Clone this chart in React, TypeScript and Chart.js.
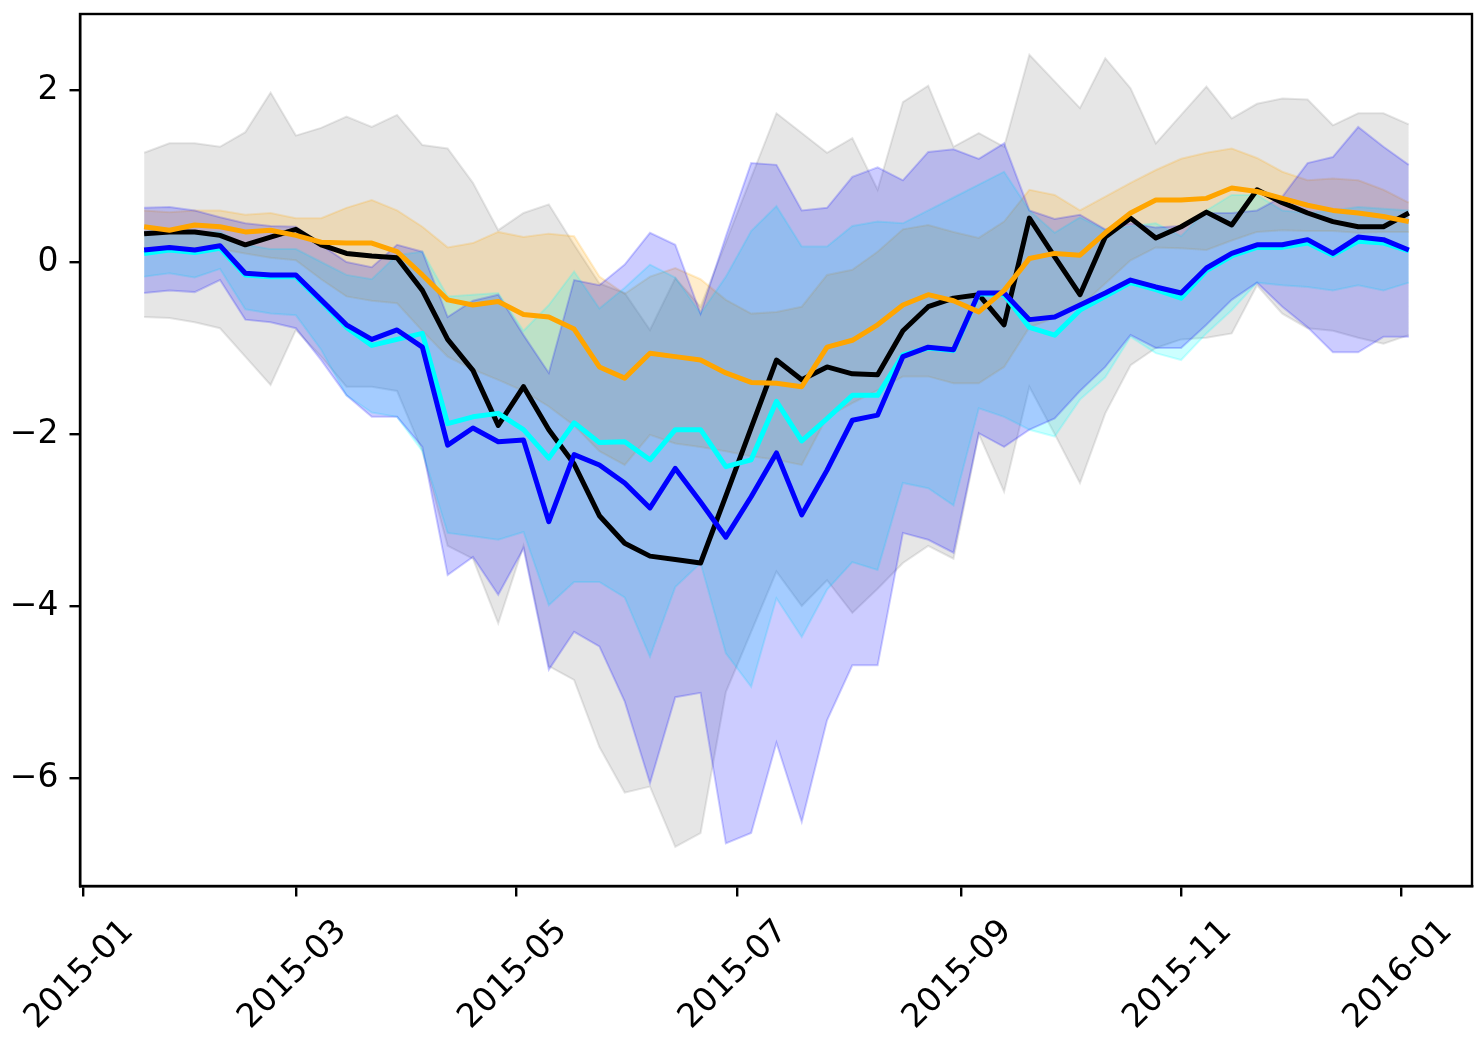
import React, { useEffect, useRef } from "react";
import { Chart, registerables } from "chart.js";

Chart.register(...registerables);

const dates = [
  "2015-01-18", "2015-01-25", "2015-02-01", "2015-02-08", "2015-02-15", "2015-02-22",
  "2015-03-01", "2015-03-08", "2015-03-15", "2015-03-22", "2015-03-29",
  "2015-04-05", "2015-04-12", "2015-04-19", "2015-04-26",
  "2015-05-03", "2015-05-10", "2015-05-17", "2015-05-24", "2015-05-31",
  "2015-06-07", "2015-06-14", "2015-06-21", "2015-06-28",
  "2015-07-05", "2015-07-12", "2015-07-19", "2015-07-26",
  "2015-08-02", "2015-08-09", "2015-08-16", "2015-08-23", "2015-08-30",
  "2015-09-06", "2015-09-13", "2015-09-20", "2015-09-27",
  "2015-10-04", "2015-10-11", "2015-10-18", "2015-10-25",
  "2015-11-01", "2015-11-08", "2015-11-15", "2015-11-22", "2015-11-29",
  "2015-12-06", "2015-12-13", "2015-12-20", "2015-12-27", "2016-01-03",
];

const tickDates = ["2015-01-01", "2015-03-01", "2015-05-01", "2015-07-01", "2015-09-01", "2015-11-01", "2016-01-01"];
const tickLabels = ["2015-01", "2015-03", "2015-05", "2015-07", "2015-09", "2015-11", "2016-01"];
const yTicks = [-6, -4, -2, 0, 2];

const black = [0.33,0.35,0.35,0.31,0.2,0.29,0.38,0.2,0.1,0.07,0.05,-0.33,-0.9,-1.26,-1.9,-1.45,-1.95,-2.35,-2.95,-3.27,-3.42,-3.46,-3.5,-2.72,-1.93,-1.14,-1.37,-1.22,-1.3,-1.31,-0.8,-0.52,-0.42,-0.38,-0.73,0.51,0.06,-0.38,0.29,0.51,0.28,0.41,0.58,0.43,0.84,0.69,0.57,0.47,0.41,0.41,0.57];
const orange = [0.41,0.37,0.43,0.41,0.35,0.37,0.31,0.23,0.22,0.22,0.12,-0.15,-0.44,-0.5,-0.46,-0.61,-0.64,-0.78,-1.22,-1.35,-1.06,-1.1,-1.14,-1.29,-1.4,-1.41,-1.45,-0.99,-0.91,-0.73,-0.5,-0.38,-0.45,-0.58,-0.33,0.04,0.1,0.08,0.34,0.57,0.72,0.72,0.74,0.86,0.82,0.74,0.66,0.6,0.57,0.53,0.47];
const blue = [0.14,0.17,0.14,0.19,-0.13,-0.15,-0.15,-0.44,-0.73,-0.9,-0.79,-0.99,-2.13,-1.93,-2.09,-2.07,-3.02,-2.24,-2.36,-2.57,-2.86,-2.4,-2.79,-3.2,-2.73,-2.22,-2.94,-2.42,-1.84,-1.78,-1.1,-0.99,-1.02,-0.36,-0.36,-0.67,-0.64,-0.5,-0.36,-0.21,-0.29,-0.36,-0.07,0.1,0.2,0.2,0.26,0.1,0.29,0.26,0.14];
const cyan = [0.1,0.14,0.11,0.16,-0.15,-0.17,-0.17,-0.46,-0.76,-0.97,-0.9,-0.83,-1.88,-1.8,-1.76,-1.95,-2.28,-1.87,-2.1,-2.09,-2.3,-1.95,-1.95,-2.38,-2.3,-1.62,-2.08,-1.82,-1.55,-1.55,-1.08,-1.0,-1.03,-0.37,-0.38,-0.76,-0.85,-0.56,-0.4,-0.24,-0.32,-0.42,-0.1,0.07,0.17,0.17,0.22,0.08,0.24,0.22,0.13];

const grayUp = [1.27,1.38,1.38,1.34,1.51,1.97,1.47,1.56,1.69,1.57,1.71,1.36,1.32,0.92,0.37,0.57,0.67,0.2,-0.25,-0.36,-0.79,-0.19,-0.52,0.23,0.98,1.73,1.5,1.27,1.44,0.84,1.86,2.05,1.34,1.5,1.34,2.41,2.1,1.79,2.37,2.02,1.38,1.71,2.04,1.67,1.84,1.9,1.89,1.59,1.73,1.73,1.6];
const grayLo = [-0.64,-0.65,-0.7,-0.77,-1.1,-1.43,-0.79,-1.1,-1.45,-1.45,-1.5,-2.2,-3.3,-3.45,-4.2,-3.3,-4.7,-4.86,-5.64,-6.17,-6.1,-6.8,-6.64,-5.0,-4.3,-3.6,-4.0,-3.7,-4.08,-3.8,-3.5,-3.3,-3.45,-2.0,-2.67,-1.45,-2.0,-2.57,-1.76,-1.2,-1.0,-0.9,-0.88,-0.83,-0.27,-0.6,-0.77,-0.8,-0.88,-0.95,-0.85];
const orangeUp = [0.6,0.58,0.6,0.6,0.55,0.57,0.51,0.51,0.63,0.72,0.6,0.41,0.17,0.22,0.35,0.29,0.33,0.3,-0.17,-0.37,-0.17,-0.07,-0.2,-0.44,-0.6,-0.58,-0.52,-0.15,-0.09,0.12,0.38,0.43,0.35,0.28,0.47,0.84,0.78,0.6,0.76,0.92,1.07,1.2,1.27,1.32,1.21,1.05,0.95,0.97,0.95,0.84,0.69];
const orangeLo = [0.15,0.17,0.15,0.15,0.1,0.05,0.02,-0.2,-0.4,-0.45,-0.48,-0.8,-1.1,-1.25,-1.37,-1.5,-1.68,-1.9,-2.2,-2.36,-2.01,-2.11,-2.15,-2.2,-2.26,-2.3,-2.36,-1.8,-1.64,-1.49,-1.33,-1.33,-1.41,-1.41,-1.22,-0.76,-0.65,-0.52,-0.25,0.02,0.17,0.16,0.14,0.25,0.35,0.37,0.36,0.36,0.34,0.35,0.35];
const blueUp = [0.63,0.64,0.6,0.52,0.45,0.42,0.41,0.2,0.0,-0.06,0.2,0.12,-0.64,-0.45,-0.38,-0.85,-1.29,-0.21,-0.27,-0.03,0.34,0.2,-0.6,0.3,1.15,1.13,0.6,0.63,0.99,1.1,0.95,1.28,1.31,1.2,1.38,0.6,0.5,0.55,0.38,0.45,0.4,0.42,0.57,0.57,0.6,0.76,1.15,1.22,1.57,1.34,1.13];
const blueLo = [-0.36,-0.33,-0.35,-0.21,-0.67,-0.7,-0.77,-1.14,-1.55,-1.8,-1.8,-2.15,-3.64,-3.43,-3.87,-3.33,-4.74,-4.3,-4.47,-5.11,-6.06,-5.06,-5.01,-6.76,-6.64,-5.59,-6.51,-5.33,-4.69,-4.69,-3.15,-3.23,-3.38,-1.99,-2.15,-1.95,-1.82,-1.5,-1.22,-0.85,-1.0,-1.0,-0.73,-0.44,-0.24,-0.52,-0.76,-1.05,-1.05,-0.87,-0.87];
const cyanUp = [0.35,0.38,0.35,0.35,0.2,0.15,0.15,0.0,-0.15,-0.2,0.08,0.12,-0.4,-0.38,-0.36,-0.8,-0.5,-0.11,-0.54,-0.3,-0.03,-0.18,-0.6,-0.17,0.36,0.65,0.18,0.18,0.42,0.47,0.45,0.6,0.75,0.9,1.05,0.6,0.34,0.52,0.37,0.42,0.45,0.3,0.6,0.78,0.78,0.6,0.57,0.6,0.64,0.62,0.6];
const cyanLo = [-0.17,-0.13,-0.18,-0.08,-0.55,-0.6,-0.62,-1.02,-1.55,-1.75,-1.8,-2.2,-3.15,-3.19,-3.23,-3.14,-3.99,-3.72,-3.72,-3.9,-4.59,-3.78,-3.5,-4.55,-4.94,-3.91,-4.36,-3.81,-3.49,-3.58,-2.57,-2.63,-2.83,-1.7,-1.8,-1.95,-2.03,-1.6,-1.34,-0.87,-1.06,-1.14,-0.83,-0.56,-0.24,-0.27,-0.29,-0.33,-0.27,-0.33,-0.24];

const DAY = 86400000;
const ORIGIN = Date.UTC(2015, 0, 1);
const toDay = (s: string) => {
  const [y, m, d] = s.split("-").map(Number);
  return (Date.UTC(y, m - 1, d) - ORIGIN) / DAY;
};
const xs = dates.map(toDay);
const tickDays = tickDates.map(toDay);
const pts = (vals: number[]) => vals.map((v, i) => ({ x: xs[i], y: v }));

const FONT = '"DejaVu Sans", sans-serif';
const FONT_SIZE = 33;

const framePlugin = {
  id: "frameAndLabels",
  afterDraw(chart: any) {
    const { ctx, chartArea, scales } = chart;
    ctx.save();
    ctx.strokeStyle = "#000";
    ctx.lineWidth = 2.4;
    ctx.strokeRect(chartArea.left, chartArea.top, chartArea.right - chartArea.left, chartArea.bottom - chartArea.top);
    ctx.fillStyle = "#000";
    ctx.font = `${FONT_SIZE}px ${FONT}`;
    ctx.textAlign = "center";
    ctx.textBaseline = "middle";
    tickDays.forEach((d, i) => {
      const px = scales.x.getPixelForValue(d);
      ctx.save();
      ctx.translate(px - 3, 975);
      ctx.rotate(-Math.PI / 4);
      ctx.fillText(tickLabels[i], 0, 0);
      ctx.restore();
    });
    ctx.restore();
  },
};

function lineDs(data: number[], color: string, order: number) {
  return {
    data: pts(data),
    borderColor: color,
    backgroundColor: color,
    borderWidth: 5,
    pointRadius: 0,
    fill: false,
    tension: 0,
    borderJoinStyle: "round",
    order,
  };
}

function bandDs(data: number[], rgba: string, fill: any, order: number) {
  return {
    data: pts(data),
    borderColor: rgba,
    backgroundColor: rgba,
    borderWidth: 2,
    pointRadius: 0,
    fill,
    tension: 0,
    order,
  };
}

export default function App() {
  const ref = useRef<HTMLCanvasElement | null>(null);
  useEffect(() => {
    if (!ref.current) return;
    const gray = "rgba(128,128,128,0.2)";
    const org = "rgba(255,165,0,0.2)";
    const blu = "rgba(0,0,255,0.2)";
    const cya = "rgba(0,255,255,0.2)";
    const chart = new Chart(ref.current, {
      type: "line",
      data: {
        datasets: [
          lineDs(orange, "#FFA500", 0),
          lineDs(blue, "#0000FF", 1),
          lineDs(cyan, "#00FFFF", 2),
          lineDs(black, "#000000", 3),
          bandDs(grayLo, gray, false, 20),
          bandDs(grayUp, gray, 4, 20),
          bandDs(orangeLo, org, false, 19),
          bandDs(orangeUp, org, 6, 19),
          bandDs(cyanLo, cya, false, 18),
          bandDs(cyanUp, cya, 8, 18),
          bandDs(blueLo, blu, false, 17),
          bandDs(blueUp, blu, 10, 17),
        ] as any,
      },
      options: {
        responsive: false,
        devicePixelRatio: 1,
        animation: false,
        layout: { padding: { top: 14, right: 2, left: 0, bottom: 0 } },
        plugins: { legend: { display: false }, tooltip: { enabled: false } },
        scales: {
          x: {
            type: "linear",
            min: -0.75,
            max: 384.5,
            afterBuildTicks: (s: any) => {
              s.ticks = tickDays.map((v) => ({ value: v }));
            },
            afterFit: (s: any) => {
              s.height = 151;
              s.paddingLeft = 0;
              s.paddingRight = 0;
            },
            ticks: { display: false },
            grid: { display: true, drawOnChartArea: false, drawTicks: true, tickLength: 10.5, color: "#000", lineWidth: 2.4 },
            border: { display: true, color: "#000", width: 2.4 },
          },
          y: {
            type: "linear",
            min: -7.256,
            max: 2.884,
            afterBuildTicks: (s: any) => {
              s.ticks = yTicks.map((v) => ({ value: v }));
            },
            afterFit: (s: any) => {
              s.width = 80;
              s.paddingTop = 0;
              s.paddingBottom = 0;
            },
            ticks: {
              padding: 11,
              color: "#000",
              font: { family: FONT, size: FONT_SIZE },
              callback: (v: any) => (Number(v) < 0 ? "\u2212" + Math.abs(Number(v)) : String(v)),
            },
            grid: { display: true, drawOnChartArea: false, drawTicks: true, tickLength: 10.5, color: "#000", lineWidth: 2.4 },
            border: { display: true, color: "#000", width: 2.4 },
          },
        },
      },
      plugins: [framePlugin],
    } as any);
    return () => chart.destroy();
  }, []);
  return (
    <div style={{ position: "absolute", left: 0, top: 0, width: 1474, height: 1037, background: "#fff" }}>
      <canvas ref={ref} width={1474} height={1037} style={{ display: "block", width: 1474, height: 1037 }} />
    </div>
  );
}
